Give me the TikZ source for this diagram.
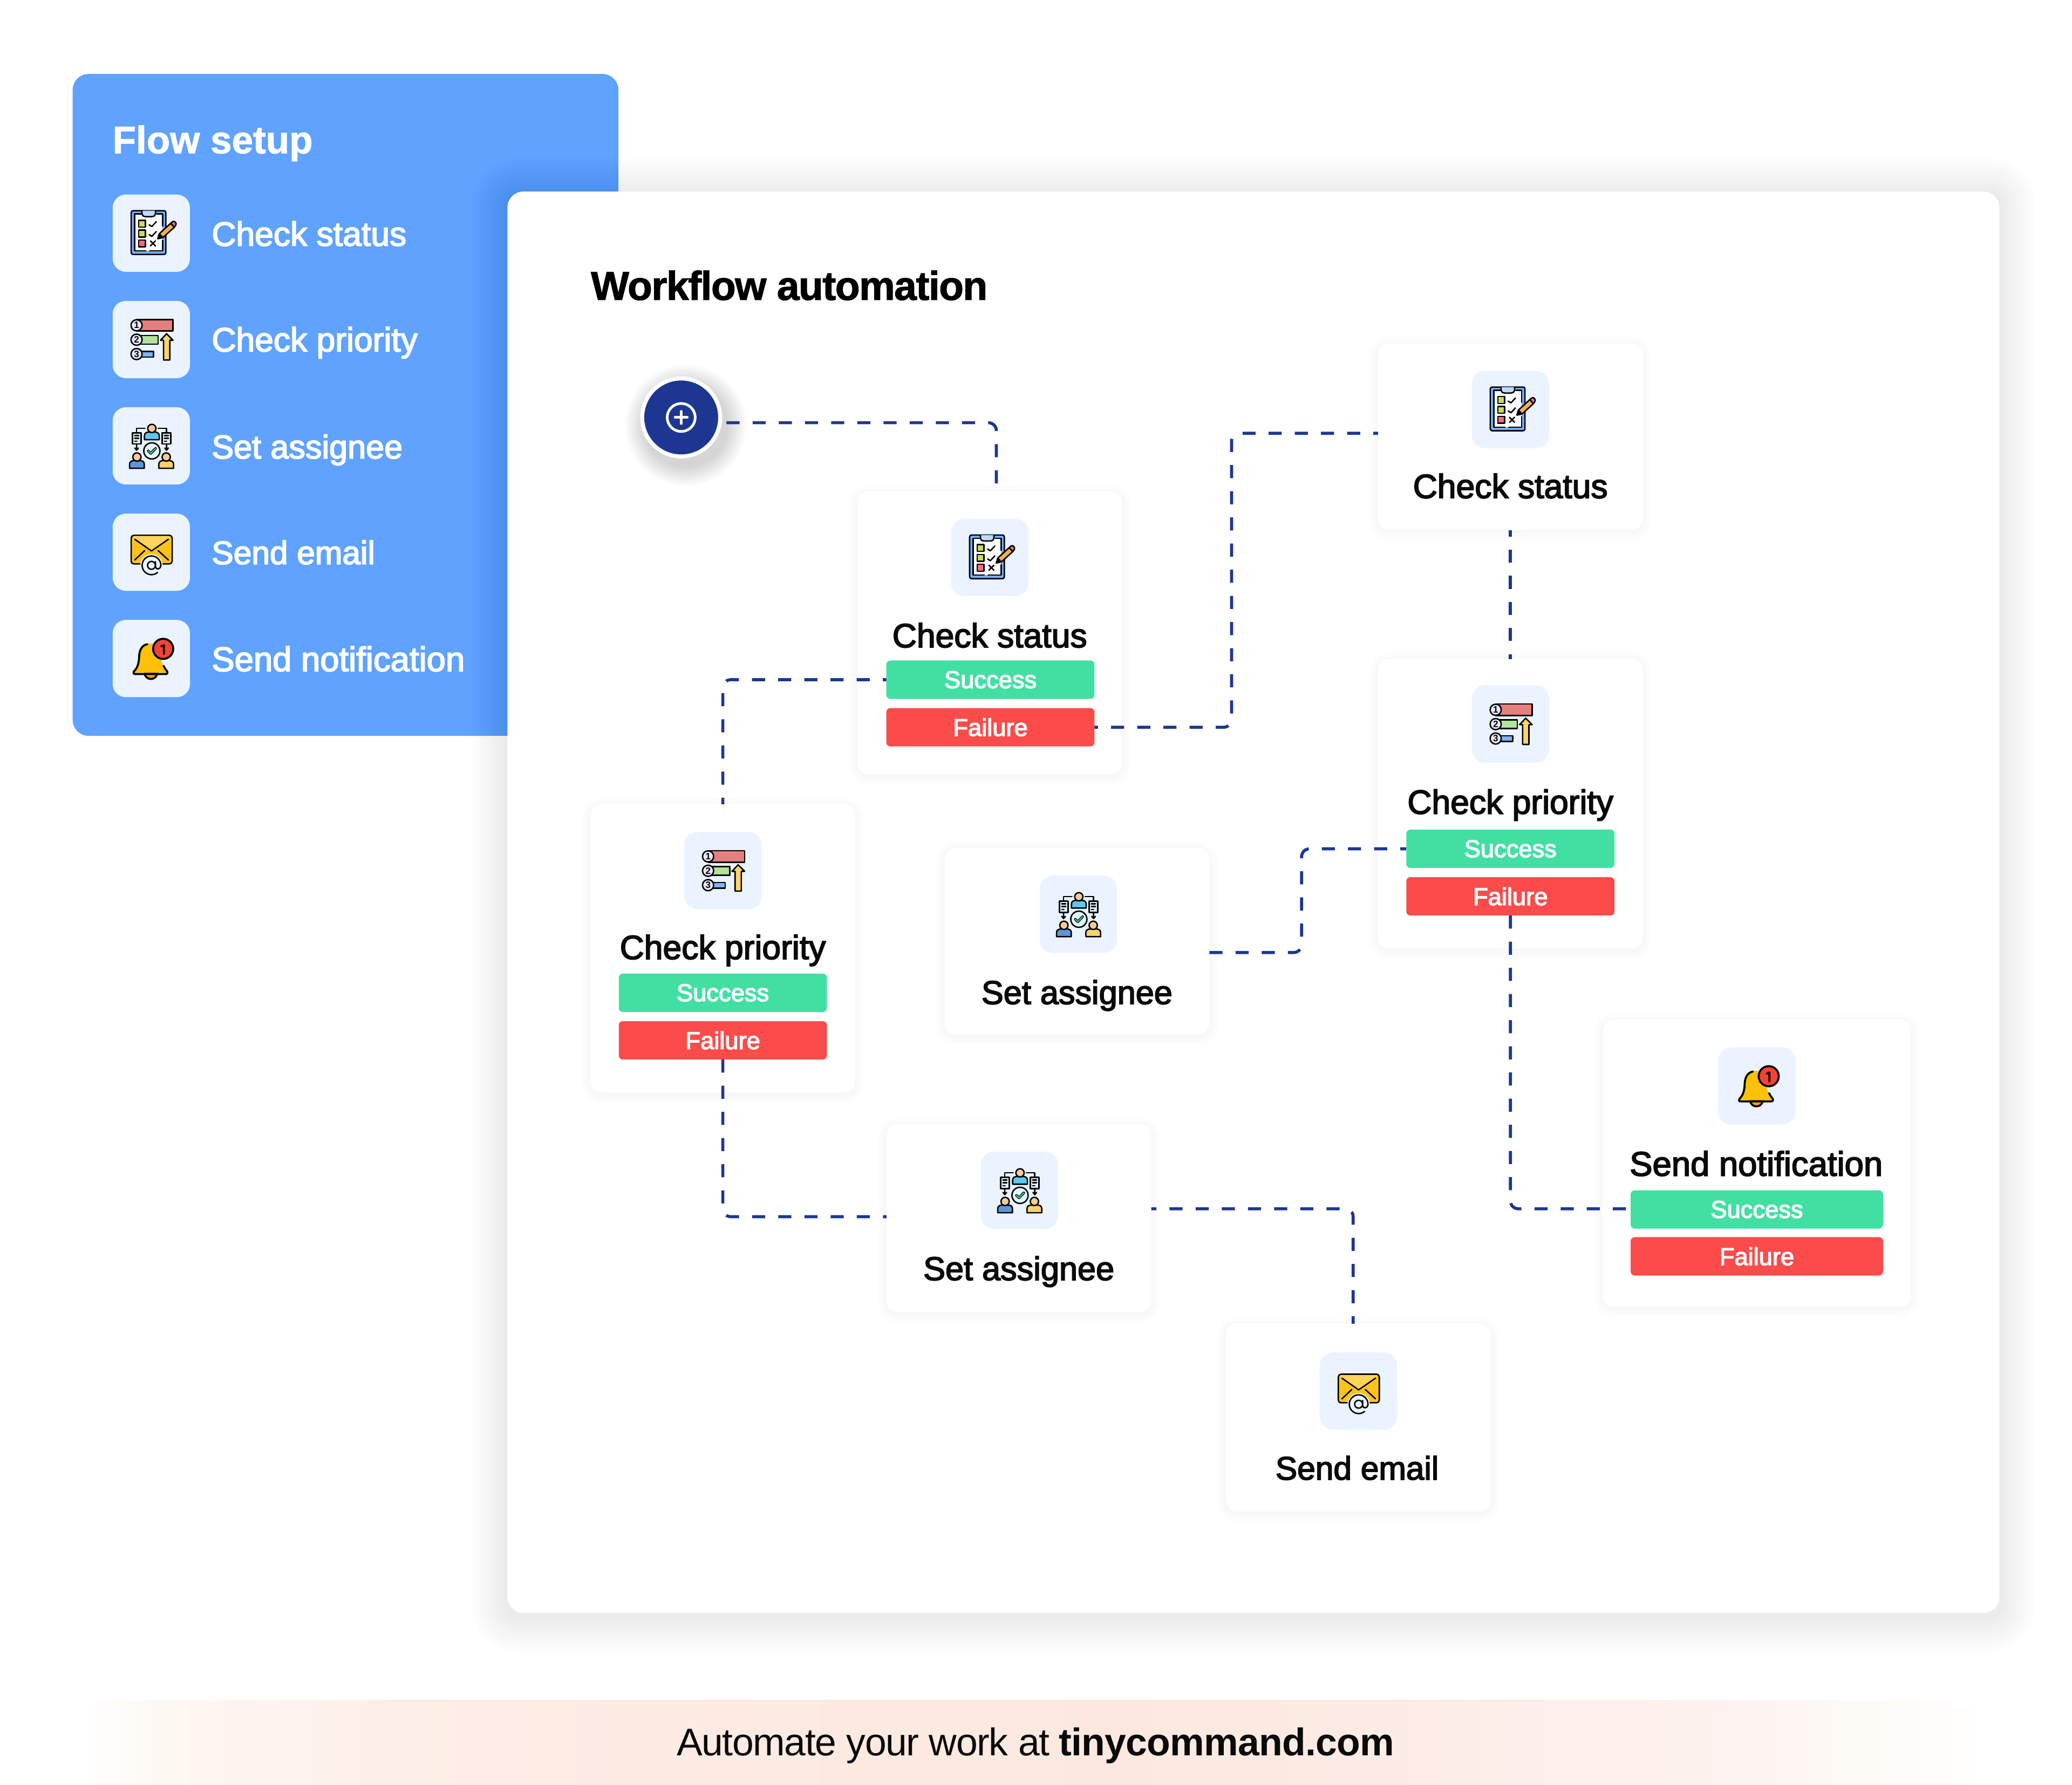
\documentclass[tikz,border=0pt]{standalone}
\usepackage{fontspec}
\setmainfont{Liberation Sans}
\newfontfamily\medfont[FakeBold=3]{Liberation Sans}
\newfontfamily\headfont[FakeBold=1.5]{Liberation Sans Bold}
\usetikzlibrary{calc}
\definecolor{panelblue}{HTML}{5FA2FF}
\definecolor{tilebg}{HTML}{EAF3FF}
\definecolor{navy}{HTML}{1D3692}
\definecolor{okgreen}{HTML}{41E0A2}
\definecolor{badred}{HTML}{FB4B4B}
\definecolor{ink}{HTML}{0A0A0A}
\tikzset{
  tile/.style={fill=tilebg,rounded corners=10pt,minimum width=58.5pt,minimum height=58.5pt,inner sep=0pt},
  cardbox/.style={fill=white,rounded corners=8pt,inner sep=0pt},
  pill/.style={rounded corners=3pt,inner sep=0pt,minimum height=29pt,text=white,font=\medfont\fontsize{18.5}{18.5}\selectfont},
  oklabel/.style={pill,fill=okgreen},
  badlabel/.style={pill,fill=badred},
  sized/.style={font=\medfont\fontsize{#1}{#1}\selectfont},
  cardlabel/.style={anchor=base,inner sep=0pt,text=ink,sized=25.5},
  listlabel/.style={anchor=base west,inner sep=0pt,text=white,sized=25.5},
  flowline/.style={draw=navy,line width=2.3pt,dash pattern=on 9.9pt off 9.9pt,rounded corners=6pt},
  ic/.style={draw=black,line width=1.05pt,line join=round,line cap=round},
  digit/.style={inner sep=0pt,text=black,font=\bfseries\fontsize{7}{7}\selectfont},
}
% x1 y1 x2 y2 spread steps opacity offset-y radius
\newcommand{\softshadow}[8]{%
  \foreach \k in {1,...,#6}{%
    \pgfmathsetmacro{\dd}{#5*(1-(\k-1)/#6)}%
    \pgfmathsetmacro{\rc}{8+\dd}%
    \fill[black,opacity=#7,rounded corners=\rc pt] (#1-\dd,#2-\dd+#8) rectangle (#3+\dd,#4+\dd+#8);
  }}
\newcommand{\cardat}[5]{% name x1 y1 x2 y2
  \softshadow{#2}{#3}{#4}{#5}{7}{7}{0.005}{1.5}
  \pgfmathsetmacro{\cw}{#4-#2}\pgfmathsetmacro{\ch}{#5-#3}
  \node[cardbox,minimum width=\cw pt,minimum height=\ch pt] (#1) at ({(#2+#4)/2},{(#3+#5)/2}) {};
}
\newcommand{\iconcheck}[3]{%
  \node[tile] (#1) at (#2,#3) {};
  \begin{scope}[shift={(#1.center)},x=.136pt,y=-.136pt]
    \draw[ic,fill=panelblue!85!white,rounded corners=1.4pt] (-112,-125) rectangle (81,118);
    \fill[white] (-92,-107) rectangle (63,98);
    \draw[ic] (-92,-60) -- (-92,98) -- (-30,98) (-10,98) -- (63,98) -- (63,40) (63,-40) -- (63,-107) -- (30,-107) (-52,-107) -- (-92,-107) -- (-92,-60);
    \draw[ic,fill=panelblue!40!white,rounded corners=1.2pt] (-52,-125) -- (-52,-102) -- (-42,-92) -- (13,-92) -- (23,-102) -- (23,-125);
    \foreach \yy/\cc in {-72/C5DC5A,-17/C5DC5A,38/F46B80}{
      \definecolor{sq}{HTML}{\cc}
      \draw[ic,fill=sq] (-70,\yy) rectangle (-32,\yy+38);
    }
    \draw[ic] (-12,-47) -- (3,-37) -- (28,-64) (-12,8) -- (3,18) -- (28,-9);
    \draw[ic] (-5,43) -- (23,71) (23,43) -- (-5,71);
    \definecolor{pen}{HTML}{F5B04A}\definecolor{pencap}{HTML}{F46B80}
    \draw[ic,fill=black] (36,31) -- (44.5,3) -- (64.5,25) -- cycle;
    \draw[ic,fill=pen] (44.5,3) -- (108,-55) -- (128,-33) -- (64.5,25) -- cycle;
    \draw[ic,fill=pencap] (108,-55) -- (118,-64) .. controls (128,-72) and (144,-56) .. (136,-44) -- (128,-33) -- cycle;
  \end{scope}}
\newcommand{\iconprio}[3]{%
  \node[tile] (#1) at (#2,#3) {};
  \begin{scope}[shift={(#1.center)},x=.136pt,y=-.136pt]
    \definecolor{r1}{HTML}{E58080}\definecolor{r2}{HTML}{B3E39B}\definecolor{r3}{HTML}{7DB5FA}\definecolor{ar}{HTML}{FCD468}\definecolor{cir}{HTML}{E8E8F8}
    \draw[ic,fill=r1] (-82,-111) rectangle (121,-47);
    \draw[ic,fill=r2] (-82,-22) rectangle (38,26);
    \draw[ic,fill=r3] (-82,66) rectangle (13,98);
    \draw[ic,fill=cir] (-82,-79) circle (31);
    \draw[ic,fill=cir] (-82,1) circle (31);
    \draw[ic,fill=cir] (-82,81) circle (31);
    \node[digit] (#1a) at (-82,-79) {1};
    \node[digit] (#1b) at (-82,1) {2};
    \node[digit] (#1c) at (-82,81) {3};
    \draw[ic,fill=ar] (85,-32) -- (121,4) -- (103,4) -- (103,114) -- (68,114) -- (68,4) -- (51,4) -- cycle;
  \end{scope}}
\newcommand{\personat}[4]{% x y colour body-halfwidth
  \draw[ic,fill=#3] (#1-41,#2+63) -- (#1-41,#2+40) .. controls (#1-41,#2+25) and (#1-30,#2+22) .. (#1-18,#2+20) -- (#1+18,#2+20) .. controls (#1+30,#2+22) and (#1+41,#2+25) .. (#1+41,#2+40) -- (#1+41,#2+63) -- cycle;
  \draw[ic,fill=headc] (#1,#2) circle (23);
}
\newcommand{\iconassign}[3]{%
  \node[tile] (#1) at (#2,#3) {};
  \begin{scope}[shift={(#1.center)},x=.136pt,y=-.136pt]
    \definecolor{headc}{HTML}{FBC89A}\definecolor{p1}{HTML}{5CC8EE}\definecolor{p2}{HTML}{5B96D8}\definecolor{p3}{HTML}{FFD166}\definecolor{docc}{HTML}{DCEEF8}\definecolor{chk}{HTML}{50D5A0}\definecolor{circ}{HTML}{E2F5FA}
    \draw[ic] (-35,-98) -- (-82,-98) -- (-82,-73) (38,-98) -- (85,-98) -- (85,-73);
    \personat{3}{-97}{p1}{41}
    \draw[ic,fill=docc] (-104,-73) rectangle (-57,-10);
    \draw[ic,fill=docc] (61,-73) rectangle (108,-10);
    \draw[ic] (-92,-58) -- (-70,-58) (-92,-42) -- (-70,-42) (-92,-26) -- (-80,-26);
    \draw[ic] (73,-58) -- (95,-58) (73,-42) -- (95,-42) (73,-26) -- (85,-26);
    \draw[ic] (-82,-10) -- (-82,22) (-92,12) -- (-82,24) -- (-72,12);
    \draw[ic] (85,-10) -- (85,22) (75,12) -- (85,24) -- (95,12);
    \draw[ic,fill=circ] (3,28) circle (45);
    \draw[ic,draw=black,line width=1.9pt] (-17,28) -- (-3,42) -- (24,14);
    \draw[draw=chk,line width=.8pt,line cap=round,line join=round] (-17,28) -- (-3,42) -- (24,14);
    \personat{-80}{62}{p2}{41}
    \personat{83}{62}{p3}{41}
  \end{scope}}
\newcommand{\iconmail}[3]{%
  \node[tile] (#1) at (#2,#3) {};
  \begin{scope}[shift={(#1.center)},x=.136pt,y=-.136pt]
    \definecolor{env}{HTML}{FFC21A}\definecolor{flap}{HTML}{FFD45C}
    \draw[ic,fill=env,rounded corners=2pt] (-112,-94) rectangle (116,65);
    \fill[flap,rounded corners=2pt] (-108,-90) -- (112,-90) -- (95,-72) -- (1,-7) -- (-92,-72) -- cycle;
    \draw[ic] (-92,-72) -- (1,-7) -- (95,-72) (-92,43) -- (-37,-9) (38,-9) -- (95,43);
    \fill[tilebg] (1,73) circle (62);
    \draw[ic] (1,73) circle (22);
    \draw[ic] plot[domain=0:-310,samples=50,smooth] ({1+cos(\x)*52},{73+sin(\x)*52});
    \draw[ic] (23,52) -- (23,82) .. controls (26,98) and (52,98) .. (53,73);
  \end{scope}}
\newcommand{\iconbell}[3]{%
  \node[tile] (#1) at (#2,#3) {};
  \begin{scope}[shift={(#1.center)},x=.136pt,y=-.136pt]
    \definecolor{bellc}{HTML}{FFC107}\definecolor{clap}{HTML}{FFA000}\definecolor{bad}{HTML}{F44336}
    \draw[ic,line width=1.5pt,fill=clap] (-37,80) .. controls (-35,125) and (30,125) .. (33,80) -- cycle;
    \fill[bellc] (-100,80) .. controls (-85,65) and (-70,40) .. (-68,0) .. controls (-68,-50) and (-40,-85) .. (-5,-85) .. controls (45,-80) and (55,-30) .. (55,-10) .. controls (55,30) and (75,60) .. (90,80) -- cycle;
    \draw[ic,line width=1.5pt] (-22,-80) .. controls (-50,-75) and (-68,-50) .. (-68,-5) .. controls (-70,40) and (-85,60) .. (-97,72) .. controls (-102,78) and (-100,86) .. (-90,86) -- (80,86) .. controls (92,86) and (92,76) .. (86,68) .. controls (78,58) and (72,50) .. (68,40);
    \draw[ic,line width=1.5pt,fill=bad] (66,-54) circle (56);
    \draw[ic,line width=1.5pt] (55,-68) -- (70,-75) -- (70,-25);
  \end{scope}}
\begin{document}
\begin{tikzpicture}[x=1pt,y=-1pt]
\useasboundingbox (0,0) rectangle (1568,1350.8);
\fill[white] (0,0) rectangle (1568,1350.8);
% footer band
\definecolor{f0}{HTML}{FEF8F3}\definecolor{f1}{HTML}{FDEEE7}\definecolor{f2}{HTML}{FCE8DE}\definecolor{f3}{HTML}{FDF1EE}\definecolor{f4}{HTML}{FEFAF5}
\shade[left color=white,right color=f0] (62,1287) rectangle (120,1351);
\shade[left color=f0,right color=f1] (119.5,1287) rectangle (300,1351);
\shade[left color=f1,right color=f2] (299.5,1287) rectangle (850,1351);
\shade[left color=f2,right color=f3] (849.5,1287) rectangle (1290,1351);
\shade[left color=f3,right color=f4] (1289.5,1287) rectangle (1400,1351);
\shade[left color=f4,right color=white] (1399.5,1287) rectangle (1505,1351);
\node[anchor=base,inner sep=0pt,text=ink,font=\fontsize{29.2}{29.2}\selectfont] (foot) at (783.5,1329) {{\addfontfeature{LetterSpace=-2}Automate your work at }\textbf{\addfontfeature{LetterSpace=-1}tinycommand.com}};
% left panel
\node[fill=panelblue,rounded corners=12pt,minimum width=413pt,minimum height=501pt,inner sep=0pt] (setup) at (261.5,306.5) {};
\node[anchor=base west,inner sep=0pt,text=white,font=\headfont\fontsize{29}{29}\selectfont] (setuptitle) at (85,116) {Flow setup};
\iconcheck{li1}{114.5}{176.5}
\iconprio{li2}{114.5}{257}
\iconassign{li3}{114.5}{337.5}
\iconmail{li4}{114.5}{418}
\iconbell{li5}{114.5}{498.5}
\node[listlabel] (ll1) at (160,186) {Check status};
\node[listlabel] (ll2) at (160,266) {Check priority};
\node[listlabel,sized=25] (ll3) at (160,347) {Set assignee};
\node[listlabel,sized=24.7] (ll4) at (160,427) {Send email};
\node[listlabel,sized=25.9] (ll5) at (160,508) {Send notification};
% main white panel
\softshadow{384}{145}{1513}{1221}{28}{20}{0.003}{2}
\node[fill=white,rounded corners=12pt,minimum width=1129pt,minimum height=1076pt,inner sep=0pt] (board) at (948.5,683) {};
\node[anchor=base west,inner sep=0pt,text=black,font=\headfont\fontsize{30.6}{30.6}\selectfont\addfontfeature{LetterSpace=-2}] (boardtitle) at (447,227) {Workflow automation};
% cards
\cardat{ca}{649}{372}{849}{586}
\cardat{cb}{1043}{260}{1243}{401}
\cardat{cc}{1043}{499}{1243}{718}
\cardat{cd}{447}{609}{647}{827}
\cardat{ce}{715}{642}{915}{783}
\cardat{cf}{671}{851}{871}{993}
\cardat{cg}{928}{1002}{1128}{1144}
\cardat{ch}{1213}{772}{1446}{989}
% start button
\foreach \k in {1,...,14}{
  \pgfmathsetmacro{\rr}{31+15*(1-(\k-1)/14)}
  \fill[black,opacity=.011] (519,322) circle (\rr);
}
\coordinate (asok) at (671,514.5);
\coordinate (asbad) at (828,550.5);
\coordinate (csok) at (1064,642.5);
\coordinate (csbad) at (1143,693);
\coordinate (dsbad) at (547,802);
\coordinate (hsok) at (1234,915);
\coordinate (stout) at (530,320);
% connectors
\draw[flowline] (stout) -| ([xshift=5pt]ca.north);
\draw[flowline,dash phase=7pt] (asbad) -- (932,550.5) -- (932,328) -- (cb.west |- 0,328);
\draw[flowline,dash phase=5pt] (cb.south) -- (cc.north);
\draw[flowline,dash phase=7pt] (asok) -- (547,514.5) -- (cd.north);
\draw[flowline] (ce.east |- 0,721) -- (985,721) -- (985,642.5) -- (csok);
\draw[flowline] (csbad) -- (1143,915) -- (hsok);
\draw[flowline] (dsbad) -- (547,921) -- (cf.west |- 0,921);
\draw[flowline,dash phase=6pt] (cf.east |- 0,915) -- (1024,915) -- (1024,1002);
\node[circle,fill=navy,draw=white,line width=3pt,minimum size=59pt,inner sep=0pt] (start) at (515.5,316) {};
\draw[white,line width=2pt] (start.center) circle (10.6);
\draw[white,line width=2pt,line cap=round] ($(start.center)+(-4.6,0)$) -- ($(start.center)+(4.6,0)$) ($(start.center)+(0,-4.6)$) -- ($(start.center)+(0,4.6)$);
% card contents
\iconcheck{ta}{749}{422}
\node[cardlabel] (la) at (749,490) {Check status};
\node[oklabel,minimum width=157.5pt] (pa1) at (749.5,514.5) {Success};
\node[badlabel,minimum width=157.5pt] (pa2) at (749.5,550.5) {Failure};
\iconcheck{tb}{1143}{310}
\node[cardlabel] (lb) at (1143,377) {Check status};
\iconprio{tc}{1143}{548}
\node[cardlabel] (lc) at (1143,616) {Check priority};
\node[oklabel,minimum width=157.5pt] (pc1) at (1143,642.5) {Success};
\node[badlabel,minimum width=157.5pt] (pc2) at (1143,678.5) {Failure};
\iconprio{td}{547}{659}
\node[cardlabel] (ld) at (547,726) {Check priority};
\node[oklabel,minimum width=157.5pt] (pd1) at (547,751.5) {Success};
\node[badlabel,minimum width=157.5pt] (pd2) at (547,787.5) {Failure};
\iconassign{te}{816}{692}
\node[cardlabel,sized=25] (le) at (815,760) {Set assignee};
\iconassign{tf}{771.5}{901}
\node[cardlabel,sized=25] (lf) at (771,969) {Set assignee};
\iconmail{tg}{1028}{1053}
\node[cardlabel,sized=24.7] (lg) at (1027,1120) {Send email};
\iconbell{th}{1329.5}{822}
\node[cardlabel,sized=25.9] (lh) at (1329,890) {Send notification};
\node[oklabel,minimum width=191pt] (ph1) at (1329.5,915.5) {Success};
\node[badlabel,minimum width=191pt] (ph2) at (1329.5,951) {Failure};
\end{tikzpicture}
\end{document}
